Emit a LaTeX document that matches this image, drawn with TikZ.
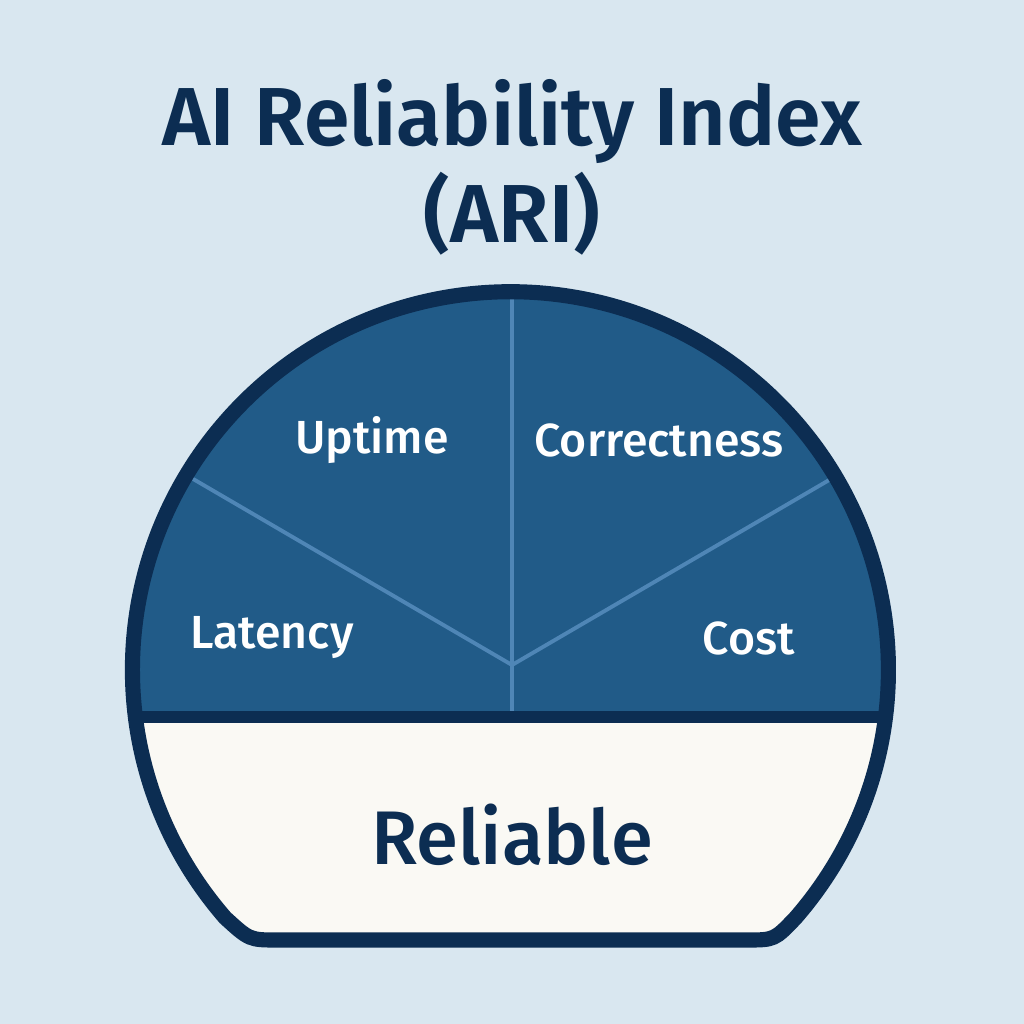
\documentclass[tikz,border=0pt]{standalone}
\usepackage{fontspec}
\setmainfont{Fira Sans}
\newfontfamily\semibold{Fira Sans SemiBold}
\newfontfamily\medium{Fira Sans Medium}
\usepackage{xcolor}
\usepackage{tikz}
\definecolor{paleblue}{HTML}{D9E7F0}
\definecolor{navy}{HTML}{0C2D52}
\definecolor{segblue}{HTML}{215B88}
\definecolor{rayblue}{HTML}{4F86B6}
\definecolor{cream}{HTML}{FAF9F4}
\tikzset{
titletextv1/.style={text=navy, inner sep=0pt, font=\semibold\fontsize{23.4}{28}\selectfont},
segmentlabelv1/.style={text=white, inner sep=0pt, font=\medium\fontsize{13.2}{16}\selectfont},
bottomlabelv1/.style={text=navy, inner sep=0pt, font=\medium\fontsize{21.6}{26}\selectfont},
raylinev1/.style={draw=rayblue, line width=1.1pt},
}

\begin{document}
\begin{tikzpicture}[x=0.01cm,y=0.01cm]
  \useasboundingbox (0,0) rectangle (1024,-1024);
  \fill[paleblue] (0,0) rectangle (1024,-1024);

  % title
  \node[titletextv1] at (512,-122) (title) {AI Reliability Index};
  \node[titletextv1] at (512,-214) (abbrev) {(ARI)};

  % the gauge: circle cut flat at the bottom
  \def\gauge{(278,-940) -- (746,-940) .. controls (774.5,-940) .. (795.7,-917.7)
    arc[start angle=-41, end angle=221, radius=378] .. controls (249.5,-940) .. (278,-940) -- cycle}
  \fill[cream] \gauge;
  \begin{scope}
    \clip \gauge;
    \fill[segblue] (100,-250) rectangle (924,-717);
    \draw[raylinev1] (512,-250) -- (512,-717);
    \draw[raylinev1] (512,-665) -- (140,-448);
    \draw[raylinev1] (512,-665) -- (884,-448);
    \draw[navy, line width=3.2pt] (100,-717) -- (924,-717);
  \end{scope}
  \draw[navy, line width=4.3pt] \gauge;

  \node[segmentlabelv1] at (372,-440) (uptime) {Uptime};
  \node[segmentlabelv1] at (659,-440) (correctness) {Correctness};
  \node[segmentlabelv1] at (272,-638) (latency) {Latency};
  \node[segmentlabelv1] at (749,-638) (cost) {Cost};
  \node[bottomlabelv1] at (512,-835) (reliable) {Reliable};
\end{tikzpicture}
\end{document}
